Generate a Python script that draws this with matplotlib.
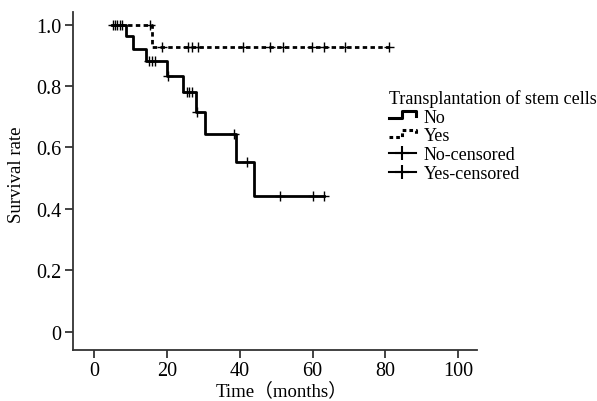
import numpy as np
import matplotlib
matplotlib.use("Agg")
import matplotlib.pyplot as plt
from matplotlib.lines import Line2D
from matplotlib.legend_handler import HandlerBase

plt.rcParams["font.family"] = ["Liberation Serif", "Noto Sans CJK SC"]

# Kaplan-Meier steps (time in months, survival after the event)
no_start = 5.0
no_times = [8.7, 10.8, 14.4, 19.9, 24.5, 28.0, 30.5, 39.0, 44.0]
no_surv = [0.963, 0.921, 0.881, 0.831, 0.779, 0.716, 0.643, 0.552, 0.441]
no_end = 63.2
no_cens_t = [5.1, 6.4, 7.8, 15.2, 15.9, 16.7, 20.3, 25.4, 26.2, 26.9, 28.2,
             38.3, 41.9, 51.1, 60.0, 63.2]

yes_start = 5.0
yes_times = [15.8]
yes_surv = [0.927]
yes_end = 80.9
yes_cens_t = [5.8, 7.1, 15.4, 18.6, 25.9, 26.8, 28.6, 41.0, 48.4, 52.0,
              59.8, 63.0, 69.0, 80.9]

xticks = [0, 20, 40, 60, 80, 100]
yticks = [0, 0.2, 0.4, 0.6, 0.8, 1.0]
ytick_labels = ["0", "0.2", "0.4", "0.6", "0.8", "1.0"]


def km_path(start, times, surv, end):
    t = [start] + list(times) + [end]
    s = [1.0] + list(surv) + [surv[-1]]
    return np.array(t), np.array(s)


def level_at(t, times, surv):
    s = 1.0
    for ti, si in zip(times, surv):
        if t >= ti:
            s = si
    return s


class StepHandler(HandlerBase):
    def __init__(self, ls):
        super().__init__()
        self.ls = ls

    def create_artists(self, legend, orig, xd, yd, w, h, fs, trans):
        xs = np.array([0, 0.5, 0.5, 1.0, 1.0]) * w - xd
        ys = np.array([0.25, 0.25, 0.8, 0.8, 0.45]) * h - yd
        ln = Line2D(xs, ys, color="black", lw=2.2, ls=self.ls, transform=trans)
        return [ln]


fig = plt.figure(figsize=(5.97, 4.02), dpi=100)
ax = fig.add_axes([0.1218, 0.1276, 0.6767, 0.8401])

t, s = km_path(no_start, no_times, no_surv, no_end)
ax.step(t, s, where="post", color="black", lw=2.0)
ax.plot(no_cens_t, [level_at(c, no_times, no_surv) for c in no_cens_t],
        ls="none", marker="+", ms=6.5, mew=1.0, color="black")

t, s = km_path(yes_start, yes_times, yes_surv, yes_end)
ax.step(t, s, where="post", color="black", lw=2.0, ls=(0, (1.6, 1.2)))
ax.plot(yes_cens_t, [level_at(c, yes_times, yes_surv) for c in yes_cens_t],
        ls="none", marker="+", ms=6.5, mew=1.0, color="black")

ax.set_xlim(-5.85, 105.05)
ax.set_ylim(-0.059, 1.041)
ax.set_xticks(xticks)
ax.set_yticks(yticks)
ax.set_yticklabels(ytick_labels)
ax.tick_params(labelsize=14.5, length=6, width=1.2, color="#222222", pad=2)
for side in ("top", "right"):
    ax.spines[side].set_visible(False)
for side in ("left", "bottom"):
    ax.spines[side].set_linewidth(1.3)
    ax.spines[side].set_color("#333333")

fig.text(0.472, 0.026, "Time（months）", ha="center", va="center", fontsize=13.5)
fig.text(0.028, 0.565, "Survival rate", ha="center", va="center",
         rotation=90, fontsize=13.5)

handles = [Line2D([], [], color="black"), Line2D([], [], color="black"),
           Line2D([], [], color="black", marker="+", ms=10, mew=1.5, lw=1.5),
           Line2D([], [], color="black", marker="+", ms=10, mew=1.5, lw=1.5)]
labels = ["No", "Yes", "No-censored", "Yes-censored"]
leg = fig.legend(handles, labels, title="Transplantation of stem cells",
                 loc="upper left", bbox_to_anchor=(0.631, 0.808), frameon=False,
                 fontsize=13, title_fontsize=13, handlelength=1.45,
                 handletextpad=0.45, labelspacing=0.1, borderpad=0.2,
                 handler_map={handles[0]: StepHandler("-"),
                              handles[1]: StepHandler((0, (1.2, 1.0)))})
leg._legend_box.align = "left"

fig.savefig("out.png", dpi=100)
